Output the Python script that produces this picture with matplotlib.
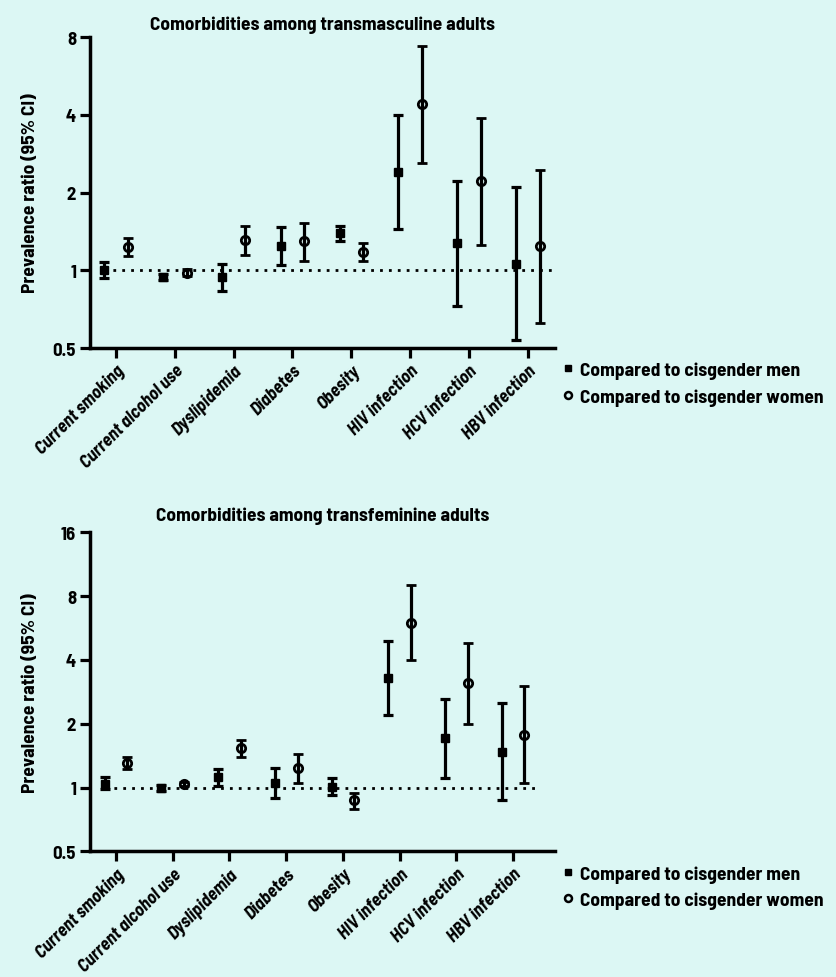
import numpy as np
import matplotlib
matplotlib.use("Agg")
import matplotlib.pyplot as plt
from matplotlib.lines import Line2D
from matplotlib.ticker import FixedLocator, NullLocator
from matplotlib import font_manager as fm

categories = ["Current smoking", "Current alcohol use", "Dyslipidemia", "Diabetes",
              "Obesity", "HIV infection", "HCV infection", "HBV infection"]

# Transmasculine adults
tm_men_pr = [1.00, 0.94, 0.94, 1.24, 1.40, 2.40, 1.27, 1.06]
tm_men_lo = [0.93, 0.915, 0.83, 1.045, 1.30, 1.44, 0.727, 0.535]
tm_men_hi = [1.077, 0.97, 1.06, 1.47, 1.49, 4.01, 2.22, 2.10]
tm_wom_pr = [1.23, 0.98, 1.31, 1.30, 1.18, 4.39, 2.21, 1.24]
tm_wom_lo = [1.14, 0.95, 1.15, 1.09, 1.09, 2.61, 1.25, 0.627]
tm_wom_hi = [1.33, 1.01, 1.48, 1.53, 1.27, 7.41, 3.90, 2.44]

# Transfeminine adults
tf_men_pr = [1.04, 0.99, 1.12, 1.05, 1.01, 3.28, 1.71, 1.47]
tf_men_lo = [0.98, 0.96, 1.02, 0.89, 0.92, 2.20, 1.11, 0.87]
tf_men_hi = [1.12, 1.03, 1.22, 1.23, 1.11, 4.93, 2.62, 2.50]
tf_wom_pr = [1.30, 1.04, 1.53, 1.24, 0.87, 5.98, 3.10, 1.77]
tf_wom_lo = [1.22, 1.02, 1.39, 1.05, 0.79, 3.98, 2.00, 1.05]
tf_wom_hi = [1.39, 1.06, 1.68, 1.44, 0.94, 9.05, 4.81, 3.01]

top_ticks = [0.5, 1, 2, 4, 8]
top_ticklabels = ["0.5", "1", "2", "4", "8"]
bot_ticks = [0.5, 1, 2, 4, 8, 16]
bot_ticklabels = ["0.5", "1", "2", "4", "8", "16"]

titles = ["Comorbidities among transmasculine adults",
          "Comorbidities among transfeminine adults"]
ylabel = "Prevalence ratio (95% CI)"
legend_labels = ["Compared to cisgender men", "Compared to cisgender women"]

BG = "#dcf7f4"

installed = {f.name for f in fm.fontManager.ttflist}
FONT = "DejaVu Sans"
scale = 0.85
for cand in ["Barlow Semi Condensed", "Roboto Condensed", "Liberation Sans Narrow",
             "Open Sans Condensed", "Roboto"]:
    if cand in installed:
        FONT = cand
        scale = 1.0 if cand != "Roboto" else 0.9
        break
plt.rcParams['font.family'] = [FONT, 'DejaVu Sans']

fig = plt.figure(figsize=(8.37, 9.78), dpi=100, facecolor=BG)

def panel(rect, men, women, ticks, ticklabels, title, xlim, ylim, title_pad):
    ax = fig.add_axes(rect)
    ax.set_facecolor(BG)
    ax.set_yscale("log")
    x = np.arange(len(categories))
    off = 0.2
    mp, ml, mh = [np.array(v) for v in men]
    wp, wl, wh = [np.array(v) for v in women]
    ax.plot([-0.2, 7.45], [1, 1], linestyle=(0, (1, 2.2)), color="black", lw=2.0, zorder=1)
    ax.errorbar(x - off, mp, yerr=[mp - ml, mh - mp], fmt="s", color="black",
                ms=5.5, mfc="black", mec="black", ecolor="black", elinewidth=2.3,
                capsize=3.5, capthick=2.3, zorder=3)
    ax.errorbar(x + off, wp, yerr=[wp - wl, wh - wp], fmt="o", color="black",
                ms=6, mfc="none", mec="black", mew=2.0, ecolor="black", elinewidth=2.3,
                capsize=3.5, capthick=2.3, zorder=3)
    ax.set_xlim(*xlim)
    ax.set_ylim(*ylim)
    ax.yaxis.set_major_locator(FixedLocator(ticks))
    ax.yaxis.set_minor_locator(NullLocator())
    ax.set_yticklabels(ticklabels, fontsize=13.5 * scale, fontweight="bold")
    ax.set_xticks(x)
    ax.set_xticklabels(categories, rotation=45, ha="right", va="top",
                       rotation_mode="anchor", fontsize=13 * scale, fontweight="bold",
                       fontstyle="italic")
    for s in ["top", "right"]:
        ax.spines[s].set_visible(False)
    for s in ["left", "bottom"]:
        ax.spines[s].set_linewidth(2.5)
    ax.tick_params(axis="both", which="major", length=7, width=2.3, direction="out", pad=3)
    ax.tick_params(axis="x", pad=3)
    ax.set_ylabel(ylabel, fontsize=14 * scale, fontweight="bold", labelpad=10)
    ax.set_title(title, fontsize=14 * scale, fontweight="bold", pad=title_pad)
    handles = [Line2D([], [], marker="s", ls="none", color="black", ms=4.5, mfc="black"),
               Line2D([], [], marker="o", ls="none", color="black", ms=5, mfc="none", mew=1.8)]
    ax.legend(handles, legend_labels, loc="upper left", bbox_to_anchor=(0.978, -0.0),
              frameon=False, handletextpad=0.1, handlelength=1.0, labelspacing=0.45,
              prop={"size": 14 * scale, "weight": "bold"}, borderaxespad=0.3)
    return ax

panel([0.1075, 0.6431, 0.5556, 0.318],
      (tm_men_pr, tm_men_lo, tm_men_hi), (tm_wom_pr, tm_wom_lo, tm_wom_hi),
      top_ticks, top_ticklabels, titles[0], (-0.44, 7.46), (0.5, 8), 6)
panel([0.1075, 0.1285, 0.5556, 0.3263],
      (tf_men_pr, tf_men_lo, tf_men_hi), (tf_wom_pr, tf_wom_lo, tf_wom_hi),
      bot_ticks, bot_ticklabels, titles[1], (-0.46, 7.74), (0.5, 16), 9)

fig.savefig("out.png", dpi=100, facecolor=BG)
